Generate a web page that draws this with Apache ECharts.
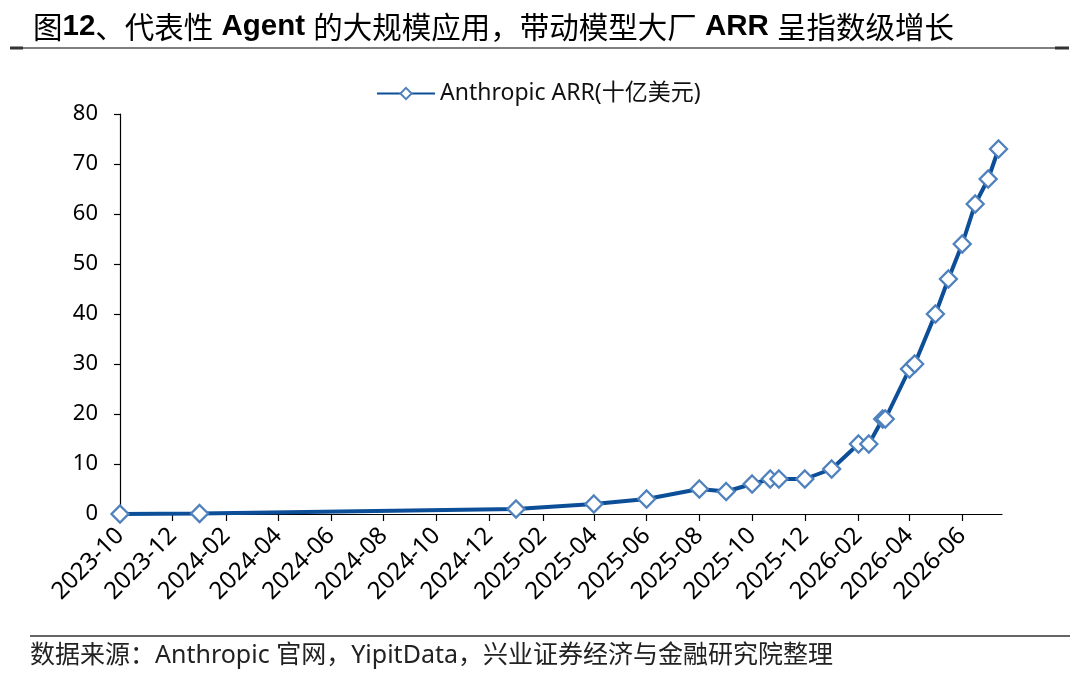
<!DOCTYPE html>
<html>
<head>
<meta charset="utf-8">
<script src="https://cdn.jsdelivr.net/npm/echarts@6/dist/echarts.min.js"></script>
<style>
html,body{margin:0;padding:0;background:#fff;}
#chart{width:1080px;height:679px;}
</style>
</head>
<body>
<div id="chart"></div>
<script>
// ---- data ----
const dates = ['2023-10-01','2024-01-01','2025-01-01','2025-04-01','2025-06-01','2025-08-01','2025-09-01','2025-10-01','2025-10-22','2025-11-01','2025-12-01','2026-01-01','2026-02-01','2026-02-13','2026-03-01','2026-03-04','2026-04-01','2026-04-07','2026-05-01','2026-05-16','2026-06-01','2026-06-16','2026-07-01','2026-07-13'];
const arrValues = [0,0.1,1,2,3,5,4.5,6,7,7,7,9,14,14,19,19,29,30,40,47,54,62,67,73];
const xTickLabels = ['2023-10','2023-12','2024-02','2024-04','2024-06','2024-08','2024-10','2024-12','2025-02','2025-04','2025-06','2025-08','2025-10','2025-12','2026-02','2026-04','2026-06'];
const yTicks = [0,10,20,30,40,50,60,70,80];
const seriesName = 'Anthropic ARR(十亿美元)';
const sourceText = '数据来源：Anthropic 官网，YipitData，兴业证券经济与金融研究院整理';

function ts(s){const p=s.split('-').map(Number);return Date.UTC(p[0],p[1]-1,p[2]||1);}
function fmt(v){const d=new Date(v);return d.getUTCFullYear()+'-'+String(d.getUTCMonth()+1).padStart(2,'0');}
const tickVals = xTickLabels.map(s=>ts(s));
const seriesData = dates.map((d,i)=>[ts(d),arrValues[i]]);

const CJK = '"Noto Sans CJK SC","Noto Sans",sans-serif';
const MIX = '"Noto Sans","Noto Sans CJK SC",sans-serif';
const LAT = '"Liberation Sans",Arial,"Noto Sans CJK SC",sans-serif';

const chart = echarts.init(document.getElementById('chart'));
chart.setOption({
  animation:false,
  backgroundColor:'#fff',
  title:{
    left:28, top:7,
    text:'{n|图}{b|12}{n|、代表性}{b| Agent }{n|的大规模应用，带动模型大厂}{b| ARR }{n|呈指数级增长}',
    textStyle:{
      rich:{
        n:{fontFamily:CJK,fontSize:29.5,color:'#000',fontWeight:'normal'},
        b:{fontFamily:LAT,fontSize:29.5,color:'#000',fontWeight:'bold'}
      }
    }
  },
  legend:{
    left:371, top:77,
    itemWidth:58, itemHeight:14,
    itemGap:6,
    textStyle:{fontFamily:MIX,fontSize:23,color:'#111'},
    data:[seriesName]
  },
  grid:{left:120,right:78,top:114,bottom:165,containLabel:false},
  xAxis:{
    type:'value',
    min:ts('2023-10-01'),
    max:ts('2026-07-17'),
    splitLine:{show:false},
    axisLine:{show:true,onZero:false,lineStyle:{color:'#000',width:1.2}},
    axisTick:{show:true,length:7,lineStyle:{color:'#000',width:1.2},customValues:tickVals},
    axisLabel:{
      customValues:tickVals,
      formatter:fmt,
      rotate:45,
      margin:18,
      fontFamily:MIX,
      fontSize:24,
      color:'#000'
    }
  },
  yAxis:{
    type:'value',
    min:yTicks[0], max:yTicks[yTicks.length-1], interval:10,
    splitLine:{show:false},
    axisLine:{show:true,lineStyle:{color:'#000',width:1.2}},
    axisTick:{show:true,length:6,lineStyle:{color:'#000',width:1.2}},
    axisLabel:{fontFamily:MIX,fontSize:22,color:'#000',margin:22}
  },
  series:[{
    name:seriesName,
    type:'line',
    data:seriesData,
    symbol:'diamond',
    symbolSize:17,
    showAllSymbol:true,
    lineStyle:{color:'#0C4E97',width:4},
    itemStyle:{color:'#ffffff',borderColor:'#4F81BD',borderWidth:2.3},
    z:3
  }],
  graphic:[
    {type:'line',shape:{x1:10,y1:48,x2:1069,y2:48},style:{stroke:'#555',lineWidth:1.5}},
    {type:'line',shape:{x1:10,y1:48,x2:23,y2:48},style:{stroke:'#333',lineWidth:3}},
    {type:'line',shape:{x1:1055,y1:48,x2:1069,y2:48},style:{stroke:'#333',lineWidth:3}},
    {type:'line',shape:{x1:30,y1:636,x2:1070,y2:636},style:{stroke:'#333',lineWidth:1.5}},
    {type:'text',x:30,y:656,style:{text:sourceText,font:'25px "Noto Sans","Noto Sans CJK SC",sans-serif',fill:'#222',verticalAlign:'middle'}}
  ]
});
</script>
</body>
</html>
